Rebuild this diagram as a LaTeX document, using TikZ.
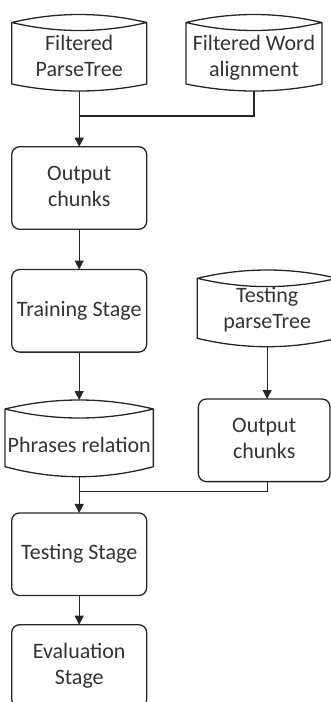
\documentclass[tikz,border=0pt]{standalone}
\usepackage{fontspec}
\setmainfont{Carlito}
\usetikzlibrary{arrows.meta}
\definecolor{ink}{HTML}{262626}
\definecolor{txt}{HTML}{333333}
% #1 node name, #2 width, #3 top sag, #4 bottom sag
\newcommand\cylout[4]{%
  \draw[lnk, line join=round]
    ([yshift=-#3pt]#1.north west) coordinate (#1-nw)
    -- ([yshift=#4pt]#1.south west) coordinate (#1-sw)
    .. controls +({#2/3},{4*#4/3}) and +({-#2/3},{4*#4/3}) .. ([yshift=#4pt]#1.south east) coordinate (#1-se)
    -- ([yshift=-#3pt]#1.north east) coordinate (#1-ne)
    .. controls +({-#2/3},{-4*#3/3}) and +({#2/3},{-4*#3/3}) .. (#1-nw)
    .. controls +({#2/3},{4*#3/3}) and +({-#2/3},{4*#3/3}) .. (#1-ne);
}
\begin{document}
\begin{tikzpicture}[x=1pt,y=-1pt,
  lnk/.style={draw=ink, line width=1.3pt},
  arr/.style={lnk, -{Triangle[length=9pt,width=9pt]}},
  txtstyle/.style={text=txt, font=\fontsize{22}{26.5}\selectfont, align=center, inner sep=0pt},
  box/.style={lnk, rounded corners=8pt, minimum width=135pt, minimum height=82.6pt,
              outer sep=0pt, txtstyle},
  cyl/.style={draw=none, inner sep=0pt, outer sep=0pt},
]
\clip (0,0) rectangle (331,702);

% cylinders (data stores)
\node[cyl, minimum width=135pt, minimum height=76.5pt,
      label={[txtstyle, name=fpt-t, yshift=-5.65pt]center:Filtered\strut\\ParseTree\strut}]
      (fpt) at (79.2,52.75) {};
\node[cyl, minimum width=136pt, minimum height=76.5pt,
      label={[txtstyle, name=fwa-t, yshift=-5.65pt]center:Filtered Word\strut\\alignment\strut}]
      (fwa) at (254,52.75) {};
\node[cyl, minimum width=139.7pt, minimum height=76.7pt,
      label={[txtstyle, name=tpt-t, yshift=-2.05pt]center:Testing\strut\\parseTree\strut}]
      (tpt) at (267.15,308.35) {};
\node[cyl, minimum width=148.3pt, minimum height=76.7pt,
      label={[txtstyle, name=pr-t, yshift=-9.05pt]center:Phrases relation\strut}]
      (pr) at (79.2,438.35) {};

\cylout{fpt}{135}{8}{7}
\cylout{fwa}{136}{8}{7}
\cylout{tpt}{139.7}{8.3}{8.4}
\cylout{pr}{148.3}{9}{10}

% process boxes
\node[box] (oc1) at (79.2,188)   {Output\strut\\chunks\strut};
\node[box] (ts)  at (79.2,310.8) {Training Stage\strut};
\node[box, minimum width=131.7pt] (oc2) at (264.2,440.3) {Output\strut\\chunks\strut};
\node[box] (tst) at (79.2,554.2) {Testing Stage\strut};
\node[box] (ev)  at (79.2,666)   {Evaluation\strut\\Stage\strut};

\coordinate (j1) at (79.2,116);
\coordinate (j2) at (79.2,491.7);

% connectors
\draw[arr] (fpt.south) -- (oc1.north);
\draw[lnk] (fwa.south) |- (j1);
\draw[arr] (oc1.south) -- (ts.north);
\draw[arr] (ts.south) -- (pr.north);
\draw[arr] (tpt.south) -- (tpt.south |- oc2.north);
\draw[lnk] (tpt.south |- oc2.south) |- (j2);
\draw[arr] (pr.south) -- (tst.north);
\draw[arr] (tst.south) -- (ev.north);
\end{tikzpicture}
\end{document}
